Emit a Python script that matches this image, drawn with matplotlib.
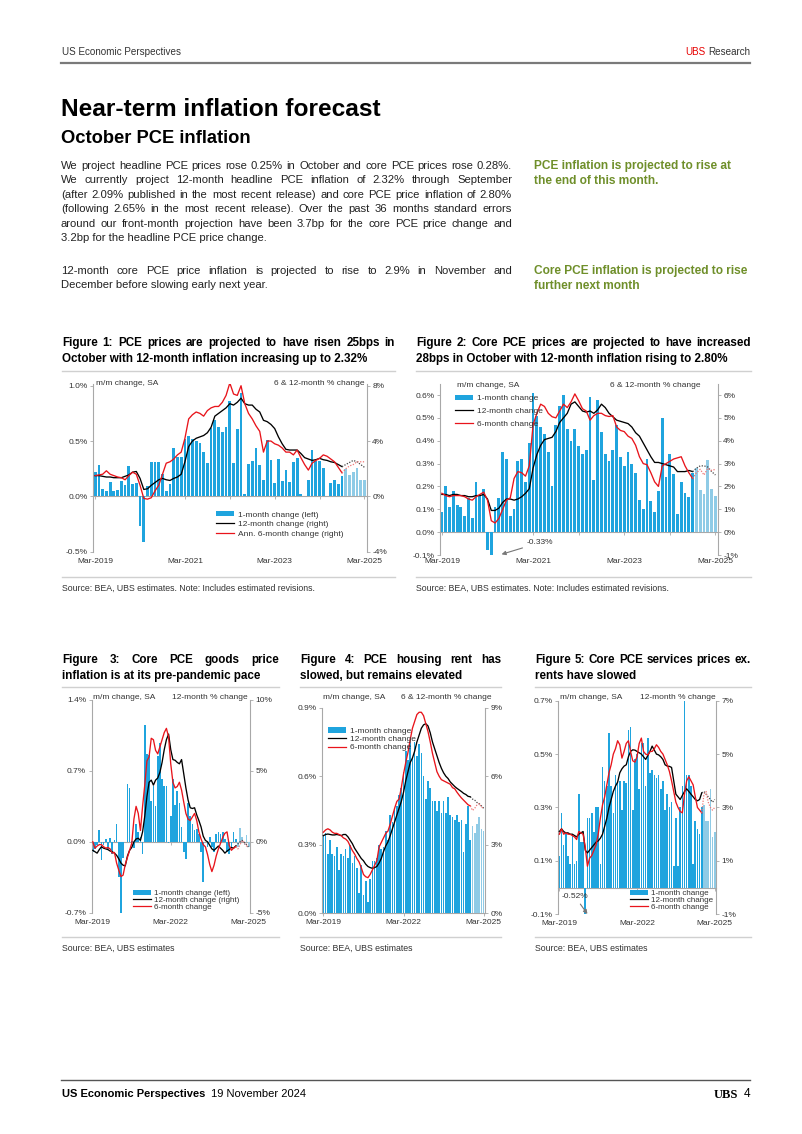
import numpy as np
import matplotlib
matplotlib.use('Agg')
import matplotlib.pyplot as plt
from matplotlib.patches import Patch
from matplotlib.lines import Line2D

plt.rcParams['font.family'] = ['Liberation Sans', 'DejaVu Sans']

# ---------------- data ----------------
ticks_a = [0, 24, 48, 72]
labels_a = ['Mar-2019', 'Mar-2021', 'Mar-2023', 'Mar-2025']
ticks_b = [0, 36, 72]
labels_b = ['Mar-2019', 'Mar-2022', 'Mar-2025']

# Figure 1: headline PCE (m/m %, last 6 = forecast)
pce_mm = [0.22, 0.28, 0.07, 0.05, 0.13, 0.05, 0.06, 0.14, 0.10, 0.27, 0.11, 0.12,
          -0.27, -0.41, 0.09, 0.31, 0.31, 0.31, 0.20, 0.05, 0.11, 0.44, 0.36, 0.36,
          0.52, 0.55, 0.52, 0.50, 0.48, 0.40, 0.30, 0.62, 0.69, 0.63, 0.58, 0.63,
          0.86, 0.30, 0.61, 0.93, 0.02, 0.29, 0.32, 0.44, 0.28, 0.15, 0.51, 0.33,
          0.12, 0.34, 0.14, 0.24, 0.13, 0.31, 0.35, 0.02, 0.00, 0.15, 0.42, 0.32,
          0.32, 0.26, 0.00, 0.12, 0.15, 0.11, 0.18,
          0.25, 0.19, 0.22, 0.26, 0.15, 0.15]
pce_12m = [1.5, 1.5, 1.45, 1.4, 1.4, 1.35, 1.35, 1.35, 1.45, 1.55, 1.75, 1.8,
           1.3, 0.5, 0.55, 0.8, 1.0, 1.2, 1.3, 1.2, 1.15, 1.3, 1.4, 1.6,
           2.5, 3.6, 4.0, 4.2, 4.3, 4.4, 4.6, 5.0, 5.8, 6.0, 6.2, 6.4,
           6.7, 6.6, 6.8, 7.1, 6.7, 6.6, 6.6, 6.3, 6.1, 5.5, 5.4, 5.2,
           4.9, 4.3, 3.8, 3.4, 3.35, 3.35, 3.35, 3.1, 2.8, 2.7, 2.6, 2.65,
           2.75, 2.65, 2.6, 2.5, 2.45, 2.3, 2.15]
pce_12m_fc = [2.3, 2.45, 2.6, 2.5, 2.3, 2.1]
pce_6m = [1.5, 1.55, 1.6, 1.85, 1.6, 1.5, 1.4, 1.35, 1.2, 1.5, 1.75, 1.6,
          0.8, -0.15, -0.2, -0.1, 0.4, 0.8, 1.6, 2.4, 2.5, 2.7, 3.0, 3.2,
          4.2, 5.6, 5.9, 6.1, 6.0, 5.8, 6.2, 6.4, 6.5, 6.5, 6.8, 7.3,
          8.2, 7.4, 7.3, 8.0, 6.7, 6.0, 5.6, 5.1, 4.7, 3.2, 4.0, 4.0,
          3.8, 3.7, 3.5, 3.2, 3.2, 3.0, 3.35, 2.8, 2.3, 1.9, 2.4, 2.6,
          2.75, 3.0, 2.9, 2.7, 2.5, 2.1, 1.7]
pce_6m_fc = [2.0, 2.2, 2.3, 2.5, 2.5, 2.5]

# Figure 2: core PCE
core_mm = [0.09, 0.20, 0.11, 0.18, 0.12, 0.11, 0.07, 0.15, 0.06, 0.22, 0.16, 0.19,
           -0.08, -0.33, 0.11, 0.15, 0.35, 0.32, 0.07, 0.10, 0.31, 0.32, 0.22, 0.39,
           0.61, 0.51, 0.46, 0.43, 0.35, 0.20, 0.47, 0.55, 0.60, 0.45, 0.40, 0.45,
           0.375, 0.34, 0.36, 0.59, 0.23, 0.58, 0.44, 0.34, 0.31, 0.36, 0.47, 0.33,
           0.29, 0.35, 0.30, 0.26, 0.14, 0.10, 0.32, 0.135, 0.09, 0.18, 0.50, 0.24,
           0.34, 0.255, 0.08, 0.22, 0.17, 0.155, 0.26,
           0.28, 0.185, 0.165, 0.315, 0.19, 0.16]
core_12m = [1.65, 1.65, 1.6, 1.65, 1.65, 1.6, 1.6, 1.55, 1.55, 1.6, 1.6, 1.65,
            1.45, 0.95, 0.95, 1.05, 1.3, 1.45, 1.45, 1.4, 1.45, 1.55, 1.7, 1.9,
            2.8, 3.4, 3.8, 4.05, 4.1, 4.15, 4.4, 4.8, 5.0, 5.2, 5.6, 5.7,
            5.5, 5.3, 5.25, 5.3, 5.2, 5.35, 5.6, 5.45, 5.2, 5.05, 4.9, 4.85,
            4.8, 4.75, 4.6, 4.35, 4.2, 3.9, 3.6, 3.3, 3.05, 3.05, 3.0, 2.95,
            2.9, 2.85, 2.65, 2.65, 2.65, 2.7, 2.65]
core_12m_fc = [2.8, 2.9, 2.9, 2.85, 2.65, 2.5]
core_6m = [1.7, 1.6, 1.55, 1.6, 1.6, 1.6, 1.55, 1.45, 1.4, 1.55, 1.65, 1.75,
           1.4, 0.5, 0.4, 0.6, 1.0, 1.4, 1.5, 2.35, 2.65, 2.6, 2.45, 2.9,
           4.7, 5.2, 5.6, 5.5, 5.2, 5.05, 5.0, 5.3, 5.6, 5.45, 5.7, 6.05,
           5.75, 5.4, 5.3, 4.9, 5.1, 5.2, 5.2, 5.1, 5.06, 5.1, 4.6, 4.45,
           4.4, 4.2, 4.1, 3.8, 3.3, 3.0, 2.95, 2.6, 2.2, 2.0, 2.9, 3.0,
           3.1, 3.2, 3.25, 3.3, 2.9, 2.6, 2.35]
core_6m_fc = [2.6, 2.75, 2.5, 2.8, 2.7, 2.75]

# Figure 3: core goods
goods_mm = [-0.10, -0.07, -0.03, 0.12, -0.18, -0.03, 0.03, -0.07, 0.04, -0.12, 0.02, 0.18,
            -0.35, -0.75, -0.16, 0.00, 0.57, 0.53, 0.01, -0.06, 0.18, 0.10, 0.05, -0.12,
            1.15, 0.87, 0.86, 0.40, 0.55, 0.35, 0.85, 0.98, 0.62, 0.55, 0.55, -0.01,
            0.25, 0.62, 0.36, 0.50, 0.38, 0.15, -0.10, -0.17, 0.38, 0.25, 0.18, 0.12,
            0.13, 0.08, -0.10, -0.40, 0.00, -0.05, 0.05, -0.05, -0.10, 0.08, 0.10, 0.08,
            0.10, 0.03, -0.10, -0.12, -0.05, 0.10, 0.03,
            -0.05, 0.14, 0.05, -0.03, 0.07, -0.05]
goods_12m = [-0.6, -0.7, -0.8, -0.55, -0.35, -0.45, -0.5, -0.55, -0.65, -0.7, -0.8, -0.95,
             -1.2, -1.5, -1.65, -1.7, -1.0, -0.6, -0.4, 0.0, 0.2, 0.25, 0.1, 0.7,
             1.8, 3.2, 4.2, 4.35, 4.0, 4.35, 4.5, 4.9, 5.6, 6.5, 7.2, 7.6,
             6.5, 5.8, 5.75, 5.6, 5.5, 5.8, 4.8, 3.8, 2.95, 2.4, 2.35, 2.4,
             1.9, 1.5, 1.05, 0.4, 0.1, 0.0, -0.25, -0.5, -0.6, -0.45, -0.3, -0.45,
             -0.6, -0.8, -0.65, -0.55, -0.4, -0.45, -0.3]
goods_12m_fc = [-0.15, 0.0, 0.1, -0.05, -0.2, -0.4]
goods_6m = [0.0, -0.45, -0.3, -0.2, -0.2, -0.35, -0.45, -0.4, -0.5, -0.8, -0.75, -1.5,
            -2.0, -2.45, -2.35, -1.6, -1.1, -0.6, -0.1, 1.6, 2.5, 2.0, 0.8, 2.5,
            4.0, 5.7, 6.0, 7.3, 7.2, 6.45, 6.2, 6.7, 7.2, 7.7, 8.0, 7.4,
            5.5, 4.2, 3.8, 3.9, 4.2, 3.65, 2.8, 2.0, 1.6, 1.5, 1.75, 2.0,
            1.5, 0.7, 0.2, -0.2, -0.35, -0.9, -1.6, -2.1, -1.65, -1.0, -0.5, -0.1,
            0.3, 0.6, 0.7, -0.25, -0.6, -0.45, -0.35]
goods_6m_fc = [-0.5, -0.2, 0.1, -0.1, -0.3, -0.2]

# Figure 4: housing rent
rent_mm = [0.34, 0.35, 0.26, 0.32, 0.26, 0.25, 0.29, 0.19, 0.26, 0.25, 0.28, 0.24,
           0.30, 0.22, 0.25, 0.20, 0.09, 0.21, 0.08, 0.14, 0.05, 0.15, 0.23, 0.23,
           0.24, 0.30, 0.28, 0.29, 0.36, 0.32, 0.43, 0.40, 0.46, 0.47, 0.52, 0.55,
           0.62, 0.71, 0.67, 0.75, 0.68, 0.75, 0.69, 0.74, 0.70, 0.60, 0.50, 0.58,
           0.55, 0.49, 0.49, 0.45, 0.49, 0.44, 0.49, 0.44, 0.51, 0.43, 0.42, 0.41,
           0.43, 0.40, 0.41, 0.27, 0.39, 0.47, 0.32,
           0.38, 0.35, 0.39, 0.42, 0.37, 0.36]
rent_12m = [3.4, 3.45, 3.47, 3.45, 3.43, 3.43, 3.45, 3.43, 3.4, 3.45, 3.45, 3.35,
            3.2, 3.05, 2.85, 2.7, 2.55, 2.4, 2.3, 2.15, 2.05, 2.0, 1.97, 2.0,
            2.05, 2.2, 2.4, 2.7, 2.95, 3.13, 3.4, 3.7, 4.0, 4.3, 4.6, 4.9,
            5.3, 5.8, 6.2, 6.6, 6.8, 7.1, 7.5, 7.8, 8.1, 8.25, 8.3, 8.2,
            7.9, 7.5, 7.2, 6.9, 6.6, 6.35, 6.15, 6.0, 5.9, 5.75, 5.65, 5.55,
            5.47, 5.4, 5.33, 5.25, 5.2, 5.12, 5.1]
rent_12m_fc = [5.0, 4.95, 4.85, 4.8, 4.7, 4.6]
rent_6m = [3.55, 3.65, 3.7, 3.65, 3.55, 3.5, 3.5, 3.45, 3.4, 3.3, 3.25, 3.15,
           2.95, 2.75, 2.6, 2.4, 2.25, 2.0, 1.7, 1.6, 1.56, 1.7, 1.9, 2.1,
           2.3, 2.9, 3.1, 3.3, 3.5, 3.6, 3.9, 4.25, 4.6, 4.9, 5.0, 5.5,
           6.1, 6.6, 7.05, 7.6, 8.1, 8.4, 8.7, 8.8, 8.8, 8.65, 8.3, 7.95,
           7.5, 7.0, 6.6, 6.2, 6.0, 5.85, 5.8, 5.75, 5.7, 5.65, 5.5, 5.45,
           5.3, 5.17, 5.05, 4.95, 4.85, 4.75, 4.7]
rent_6m_fc = [4.5, 4.6, 4.75, 4.8, 4.65, 4.6]

# Figure 5: core services ex. rents
svc_mm = [0.12, 0.28, 0.16, 0.20, 0.12, 0.09, 0.20, 0.09, 0.10, 0.35, 0.17, 0.17,
          -0.52, 0.26, 0.26, 0.28, 0.21, 0.30, 0.30, 0.09, 0.45, 0.40, 0.38, 0.58,
          0.38, 0.28, 0.42, 0.39, 0.40, 0.29, 0.40, 0.39, 0.59, 0.60, 0.29, 0.48,
          0.50, 0.37, 0.54, 0.54, 0.38, 0.56, 0.43, 0.44, 0.42, 0.41, 0.42, 0.37,
          0.40, 0.29, 0.35, 0.30, 0.32, 0.08, 0.26, 0.08, 0.30, 0.38, 0.70, 0.42,
          0.42, 0.38, 0.09, 0.25, 0.22, 0.20, 0.30,
          0.31, 0.25, 0.25, 0.37, 0.19, 0.21]
svc_12m = [2.1, 2.2, 2.1, 2.05, 2.05, 2.0, 2.0, 1.95, 1.9, 2.0, 2.05, 2.1,
           1.4, 1.3, 1.4, 1.5, 1.6, 1.7, 1.75, 1.85, 2.0, 2.3, 2.6, 3.0,
           3.3, 3.6, 3.8, 3.95, 4.3, 4.45, 4.55, 4.6, 4.9, 5.1, 5.16, 5.15,
           5.1, 5.05, 5.0, 4.9, 4.8, 4.95, 5.1, 5.3, 5.15, 5.0, 4.97, 4.9,
           4.8, 4.6, 4.55, 4.54, 4.5, 4.0, 3.5, 3.4, 3.3, 3.45, 3.6, 3.7,
           3.6, 3.5, 3.4, 3.3, 3.25, 3.3, 3.55]
svc_12m_fc = [3.6, 3.5, 3.4, 3.3, 3.2, 3.3]
svc_6m = [2.0, 2.2, 2.0, 2.05, 2.0, 2.0, 1.95, 1.9, 1.8, 2.1, 2.05, 2.0,
          1.5, 0.8, 1.1, 1.2, 1.4, 1.6, 2.0, 2.6, 3.1, 3.4, 3.85, 4.3,
          4.6, 5.0, 5.2, 5.5, 5.35, 4.85, 5.1, 5.4, 5.5, 5.1, 4.75, 4.7,
          4.9, 5.4, 5.6, 5.1, 5.0, 4.97, 5.1, 5.1, 5.2, 5.35, 5.25, 5.1,
          5.0, 4.8, 4.6, 4.35, 4.0, 3.6, 3.2, 3.0, 2.85, 2.8, 3.5, 4.0,
          4.15, 4.0, 3.85, 3.4, 3.0, 2.9, 2.8]
svc_6m_fc = [3.5, 3.6, 3.2, 3.0, 2.9, 3.0]

# ---------------- page text ----------------
body_1 = ["We project headline PCE prices rose 0.25% in October and core PCE prices rose 0.28%.",
          "We currently project 12-month headline PCE inflation of 2.32% through September",
          "(after 2.09% published in the most recent release) and core PCE price inflation of 2.80%",
          "(following 2.65% in the most recent release). Over the past 36 months standard errors",
          "around our front-month projection have been 3.7bp for the core PCE price change and",
          "3.2bp for the headline PCE price change."]
body_2 = ["12-month core PCE price inflation is projected to rise to 2.9% in November and",
          "December before slowing early next year."]
side_1 = ["PCE inflation is projected to rise at", "the end of this month."]
side_2 = ["Core PCE inflation is projected to rise", "further next month"]
fig_titles = [
    ["Figure 1: PCE prices are projected to have risen 25bps in",
     "October with 12-month inflation increasing up to 2.32%"],
    ["Figure 2: Core PCE prices are projected to have increased",
     "28bps in October with 12-month inflation rising to 2.80%"],
    ["Figure 3: Core PCE goods price", "inflation is at its pre-pandemic pace"],
    ["Figure 4: PCE housing rent has", "slowed, but remains elevated"],
    ["Figure 5: Core PCE services prices ex.", "rents have slowed"],
]

BLUE = '#1fa4de'
LIGHT = '#8fcbe6'
RED = '#e8141b'
GREY = '#a8a8a8'
TXT = '#333333'
GREEN = '#6f8f2a'

W, H = 802, 1134
fig = plt.figure(figsize=(W / 100, H / 100), dpi=100)
R = fig.canvas.get_renderer()


def tw(s, size, weight='normal'):
    t = fig.text(0, 0, s, fontsize=size, fontweight=weight)
    w = t.get_window_extent(R).width
    t.remove()
    return w


def put(x, yc, s, size, weight='normal', color=TXT, ha='left', **kw):
    yb = yc + 0.36 * size * 100 / 72
    return fig.text(x / W, 1 - yb / H, s, fontsize=size, fontweight=weight,
                    color=color, ha=ha, va='baseline', **kw)


def block(x0, x1, yc, dy, lines, size, weight='normal', color=TXT):
    for k, line in enumerate(lines):
        y = yc + k * dy
        if k == len(lines) - 1:
            put(x0, y, line, size, weight, color)
            continue
        words = line.split(' ')
        ws = [tw(w, size, weight) for w in words]
        gap = (x1 - x0 - sum(ws)) / (len(words) - 1)
        x = x0
        for w, wd in zip(words, ws):
            put(x, y, w, size, weight, color)
            x += wd + gap


def hline(x0, x1, y, color, lw):
    fig.add_artist(Line2D([x0 / W, x1 / W], [1 - y / H, 1 - y / H], color=color, lw=lw))


# header
hsize = 10 * 119 / tw('US Economic Perspectives', 10)
put(62, 51, 'US Economic Perspectives', hsize, color=TXT)
put(750, 51, 'Research', hsize, color=TXT, ha='right')
put(750 - tw(' Research', hsize), 51, 'UBS', hsize, color='#e60000', ha='right')
hline(61, 750, 63, '#7a7a7a', 1.6)

put(61, 107, 'Near-term inflation forecast', 10 * 319 / tw('Near-term inflation forecast', 10, 'bold'),
    'bold', '#000000')
put(61, 136, 'October PCE inflation', 10 * 190 / tw('October PCE inflation', 10, 'bold'),
    'bold', '#000000')

body_size = min(10 * 444 / tw(l, 10) for l in body_1[:-1] + body_2[:-1])
block(61, 512, 165, 14.4, body_1, body_size, color='#222222')
block(61, 512, 270, 14.4, body_2, body_size, color='#222222')
side_size = 10 * 196 / tw(side_1[0], 10, 'bold')
for k, l in enumerate(side_1):
    put(534, 165 + 14.4 * k, l, side_size, 'bold', GREEN)
for k, l in enumerate(side_2):
    put(534, 270 + 14.4 * k, l, side_size, 'bold', GREEN)

# figure titles, rules and sources
top_blocks = [(62, 395), (416, 751)]
bot_blocks = [(62, 279), (300, 501), (535, 751)]
all_blocks = top_blocks + bot_blocks
ft_size = min(10 * 0.985 * (b - a) / tw(fig_titles[k][0], 10, 'bold')
              for k, (a, b) in enumerate(all_blocks) if k in (0, 1, 4))
src_size = 10 * 254 / tw('Source: BEA, UBS estimates. Note: Includes estimated revisions.', 10)
for k, (a, b) in enumerate(top_blocks):
    block(a, b, 342, 16, fig_titles[k], ft_size, 'bold', '#000000')
    hline(a, b, 371, '#d0d0d0', 1.0)
    hline(a, b, 577, '#d0d0d0', 1.0)
    put(a, 588, 'Source: BEA, UBS estimates. Note: Includes estimated revisions.', src_size)
for k, (a, b) in enumerate(bot_blocks):
    block(a, b, 659, 16, fig_titles[k + 2], ft_size, 'bold', '#000000')
    hline(a, b, 687, '#d0d0d0', 1.0)
    hline(a, b, 937, '#d0d0d0', 1.0)
    put(a, 948, 'Source: BEA, UBS estimates', src_size)

# footer
hline(61, 750, 1080, '#555555', 1.0)
put(62, 1093, 'US Economic Perspectives', 8.0, 'bold', '#000000')
put(62 + tw('US Economic Perspectives', 8.0, 'bold') + 6, 1093, '19 November 2024', 8.0, color='#000000')
put(738, 1093, 'UBS', 9, 'bold', '#000000', ha='right', family='Liberation Serif')
put(750, 1093, '4', 8.6, color='#000000', ha='right')


# ---------------- charts ----------------
def chart(box, mm, m12, m12f, m6, m6f, ylim, yticks, rlim, rticks, xt, xl, zt, xpad):
    x0, x1, ytop, ybot = box
    ax = fig.add_axes([x0 / W, 1 - ybot / H, (x1 - x0) / W, (ybot - ytop) / H])
    n = len(m12)
    idx = np.arange(len(mm))
    ax.bar(idx, mm, width=0.74, color=[BLUE] * n + [LIGHT] * (len(mm) - n), linewidth=0)
    ax.set_xlim(-0.5, 72.6)
    ax.set_ylim(ylim)
    ax.set_yticks(yticks)
    ax.set_yticklabels(['{:.1f}%'.format(v) for v in yticks])
    ax.set_xticks(xt)
    ax.set_xticklabels(xl)
    ax.tick_params(axis='x', length=0, pad=xpad, labelsize=6, labelcolor=TXT)
    ax.tick_params(axis='y', length=2.5, width=0.6, color=GREY, labelsize=6, labelcolor=TXT, pad=1.5)
    for s in ('top', 'bottom', 'right'):
        ax.spines[s].set_visible(False)
    ax.spines['left'].set_color(GREY)
    ax.spines['left'].set_linewidth(0.8)
    sec = ax.secondary_xaxis(0, transform=ax.transData)
    sec.set_xticks(zt)
    sec.tick_params(length=2.5, width=0.6, color=GREY, labelbottom=False)
    sec.spines['bottom'].set_color(GREY)
    sec.spines['bottom'].set_linewidth(0.8)

    ax2 = ax.twinx()
    ax2.plot(idx[:n], m12, color='#000000', lw=0.95)
    ax2.plot(idx[n - 1:], [m12[-1]] + m12f, color='#444444', lw=0.9, ls=(0, (1, 1.2)))
    ax2.plot(idx[:n], m6, color=RED, lw=0.95)
    ax2.plot(idx[n - 1:], [m6[-1]] + m6f, color='#ee7777', lw=0.9, ls=(0, (1, 1.2)))
    ax2.set_ylim(rlim)
    ax2.set_yticks(rticks)
    ax2.set_yticklabels(['{:.0f}%'.format(v) for v in rticks])
    ax2.tick_params(axis='y', length=2.5, width=0.6, color=GREY, labelsize=6, labelcolor=TXT, pad=1.5)
    for s in ('top', 'bottom', 'left'):
        ax2.spines[s].set_visible(False)
    ax2.spines['right'].set_color(GREY)
    ax2.spines['right'].set_linewidth(0.8)
    return ax, ax2


def legend(ax, labels, hx, ytop, spacing, size=6):
    handles = [Patch(facecolor=BLUE, edgecolor='none'),
               Line2D([], [], color='#000000', lw=0.9),
               Line2D([], [], color=RED, lw=0.9)]
    lg = ax.legend(handles, labels, loc='upper left', bbox_to_anchor=(hx / W, 1 - ytop / H),
                   bbox_transform=fig.transFigure, frameon=False, fontsize=size,
                   handlelength=2.2, handleheight=0.6, handletextpad=0.45,
                   labelspacing=spacing, borderpad=0, borderaxespad=0)
    for t in lg.get_texts():
        t.set_color(TXT)


lab_a = ['1-month change (left)', '12-month change (right)', 'Ann. 6-month change (right)']
lab_b = ['1-month change', '12-month change', '6-month change']
lab_c = ['1-month change (left)', '12-month change (right)', '6-month change']

# Figure 1
ax, ax2 = chart((93.3, 366.7, 383.5, 551.7), pce_mm, pce_12m, pce_12m_fc, pce_6m, pce_6m_fc,
                (-0.5, 1.02), [-0.5, 0.0, 0.5, 1.0], (-4, 8.16), [-4, 0, 4, 8],
                ticks_a, labels_a, list(range(0, 73, 12)), 4.2)
legend(ax2, lab_a, 216, 511, 0.24)
put(96, 381.5, 'm/m change, SA', 6, color=TXT)
put(364, 381.5, '6 & 12-month % change', 6, color=TXT, ha='right')

# Figure 2
ax, ax2 = chart((440, 717.7, 383.6, 555), core_mm, core_12m, core_12m_fc, core_6m, core_6m_fc,
                (-0.1, 0.65), [-0.1, 0.0, 0.1, 0.2, 0.3, 0.4, 0.5, 0.6], (-1, 6.5),
                [-1, 0, 1, 2, 3, 4, 5, 6], ticks_a, labels_a, list(range(0, 73, 12)), 2.5)
legend(ax2, lab_b, 455, 394.5, 0.62)
put(456.7, 384, 'm/m change, SA', 6, color=TXT)
put(700, 384, '6 & 12-month % change', 6, color=TXT, ha='right')
neg = int(np.argmin(core_mm))
ax.annotate('-0.33%', xy=(neg + 2.7, -0.097), xytext=(22.3, -0.046), fontsize=6, color=TXT,
            ha='left', va='center', annotation_clip=False,
            arrowprops=dict(arrowstyle='-|>', color='#777777', lw=0.8, mutation_scale=6,
                            shrinkA=1, shrinkB=0))

# Figure 3
ax, ax2 = chart((91.7, 250, 700, 912.7), goods_mm, goods_12m, goods_12m_fc, goods_6m, goods_6m_fc,
                (-0.7, 1.4), [-0.7, 0.0, 0.7, 1.4], (-5, 10), [-5, 0, 5, 10],
                ticks_b, labels_b, ticks_b, 4.8)
legend(ax2, lab_c, 133, 889.8, -0.05, 5.8)
put(93, 696, 'm/m change, SA', 6, color=TXT)
put(247.5, 696, '12-month % change', 6, color=TXT, ha='right')

# Figure 4
ax, ax2 = chart((322.3, 485, 707.7, 913.3), rent_mm, rent_12m, rent_12m_fc, rent_6m, rent_6m_fc,
                (0, 0.9), [0.0, 0.3, 0.6, 0.9], (0, 9), [0, 3, 6, 9],
                ticks_b, labels_b, ticks_b, 4.3)
legend(ax2, lab_b, 328, 727.3, 0.08)
put(323.3, 696, 'm/m change, SA', 6, color=TXT)
put(491.7, 696, '6 & 12-month % change', 6, color=TXT, ha='right')

# Figure 5
ax, ax2 = chart((558.3, 716, 700.7, 914.3), svc_mm, svc_12m, svc_12m_fc, svc_6m, svc_6m_fc,
                (-0.1, 0.7), [-0.1, 0.1, 0.3, 0.5, 0.7], (-1, 7), [-1, 1, 3, 5, 7],
                ticks_b, labels_b, ticks_b, 4.3)
legend(ax2, lab_b, 630, 889.7, -0.05, 5.8)
put(559.5, 696, 'm/m change, SA', 6, color=TXT)
put(715.5, 696, '12-month % change', 6, color=TXT, ha='right')
neg = int(np.argmin(svc_mm))
ax.annotate('-0.52%', xy=(neg + 1.0, -0.099), xytext=(1.1, -0.034), fontsize=6, color=TXT,
            ha='left', va='center', annotation_clip=False,
            arrowprops=dict(arrowstyle='-|>', color='#777777', lw=0.8, mutation_scale=6,
                            shrinkA=1, shrinkB=0))

fig.savefig('out.png', dpi=100, facecolor='white')
